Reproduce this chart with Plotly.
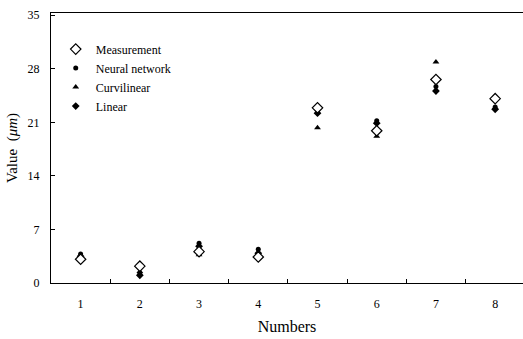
import plotly.graph_objects as go

numbers = [1, 2, 3, 4, 5, 6, 7, 8]
measurement = [3.1, 2.2, 4.1, 3.4, 22.9, 19.9, 26.6, 24.1]
neural_network = [3.8, 1.2, 5.2, 4.4, 22.4, 21.2, 25.7, 23.0]
curvilinear = [3.3, 1.5, 3.7, 3.6, 20.3, 19.2, 28.9, 22.9]
linear = [3.5, 1.0, 4.8, 3.9, 22.2, 20.9, 25.1, 22.7]

y_ticks = [0, 7, 14, 21, 28, 35]
x_minor_ticks = [1.5, 2.5, 3.5, 4.5, 5.5, 6.5, 7.5]

serif = "Liberation Serif"

fig = go.Figure()
fig.add_trace(go.Scatter(
    x=numbers, y=neural_network, mode="markers", name="Neural network",
    marker=dict(symbol="circle", size=5, color="black"), legendrank=2,
))
fig.add_trace(go.Scatter(
    x=numbers, y=curvilinear, mode="markers", name="Curvilinear",
    marker=dict(symbol="triangle-up", size=6, color="black"), legendrank=3,
))
fig.add_trace(go.Scatter(
    x=numbers, y=linear, mode="markers", name="Linear",
    marker=dict(symbol="diamond", size=6, color="black"), legendrank=4,
))
fig.add_trace(go.Scatter(
    x=numbers, y=measurement, mode="markers", name="Measurement",
    marker=dict(symbol="diamond", size=8, color="white",
                line=dict(color="black", width=1.2)), legendrank=1,
))

fig.update_layout(
    width=523, height=339,
    margin=dict(l=51, r=0, t=13, b=56),
    paper_bgcolor="white", plot_bgcolor="white",
    font=dict(family=serif, size=12, color="black"),
    legend=dict(
        x=0.01, y=0.92, xanchor="left", yanchor="top",
        bgcolor="rgba(0,0,0,0)", traceorder="normal",
        font=dict(family=serif, size=12), itemwidth=30,
        tracegroupgap=0,
    ),
    showlegend=True,
)

fig.update_xaxes(
    range=[0.5, 8.47], tickvals=numbers, ticktext=[str(n) for n in numbers],
    ticks="", showgrid=False, zeroline=False,
    showline=True, linecolor="black", linewidth=1, mirror=True,
    minor=dict(tickvals=x_minor_ticks, ticks="inside", ticklen=4,
               tickcolor="black", showgrid=False),
    tickfont=dict(family=serif, size=12), ticklabelstandoff=10,
    title=dict(text="Numbers", font=dict(family=serif, size=16), standoff=10),
)
fig.update_yaxes(
    range=[0, 35.3], tickvals=y_ticks,
    ticks="inside", ticklen=4, tickcolor="black",
    showgrid=False, zeroline=False,
    showline=True, linecolor="black", linewidth=1,
    tickfont=dict(family=serif, size=12), ticklabelstandoff=8,
    title=dict(text="Value  (<i>μm</i>)", font=dict(family=serif, size=15),
               standoff=6),
)

fig.write_html("out.html")
